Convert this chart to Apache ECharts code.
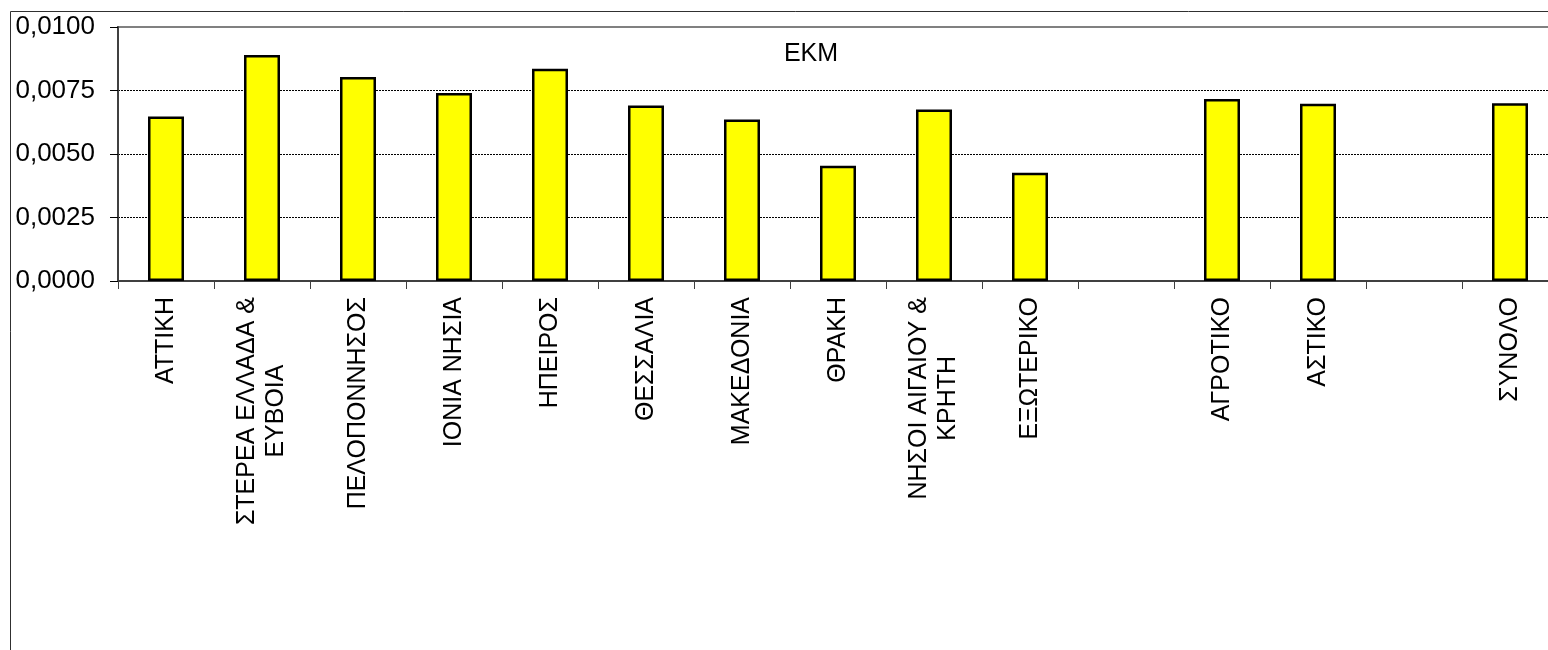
<!DOCTYPE html>
<html>
<head>
<meta charset="utf-8">
<script src="https://cdn.jsdelivr.net/npm/echarts@6/dist/echarts.min.js"></script>
<style>
html,body{margin:0;padding:0;background:#fff;overflow:hidden;width:1548px;height:650px;}
#c{width:1580px;height:650px;}
</style>
</head>
<body>
<div id="c"></div>
<script>
const categories = [
  'ΑΤΤΙΚΗ',
  'ΣΤΕΡΕΑ ΕΛΛΑΔΑ &\nΕΥΒΟΙΑ',
  'ΠΕΛΟΠΟΝΝΗΣΟΣ',
  'ΙΟΝΙΑ ΝΗΣΙΑ',
  'ΗΠΕΙΡΟΣ',
  'ΘΕΣΣΑΛΙΑ',
  'ΜΑΚΕΔΟΝΙΑ',
  'ΘΡΑΚΗ',
  'ΝΗΣΟΙ ΑΙΓΑΙΟΥ &\nΚΡΗΤΗ',
  'ΕΞΩΤΕΡΙΚΟ',
  '',
  'ΑΓΡΟΤΙΚΟ',
  'ΑΣΤΙΚΟ',
  '',
  'ΣΥΝΟΛΟ'
];
const values = [
  0.00648, 0.00890, 0.00803, 0.00740, 0.00836,
  0.00691, 0.00636, 0.00454, 0.00675, 0.00426,
  null, 0.00717, 0.00698, null, 0.00700
];
const seriesName = 'ΕΚΜ';
const yTicks = { min: 0, max: 0.01, interval: 0.0025 };

const FONT = "'Liberation Sans', Arial, sans-serif";
const chart = echarts.init(document.getElementById('c'), null, { renderer: 'canvas' });

chart.setOption({
  animation: false,
  backgroundColor: '#ffffff',
  graphic: [
    {
      type: 'rect',
      z: -10,
      shape: { x: 10.5, y: 11.5, width: 1700, height: 800 },
      style: { fill: 'none', stroke: '#303030', lineWidth: 1 }
    },
    {
      type: 'text',
      z: 10,
      style: {
        text: seriesName,
        x: 811, y: 54,
        textAlign: 'center',
        textVerticalAlign: 'middle',
        font: "25px 'Liberation Sans', Arial, sans-serif",
        fill: '#000'
      }
    }
  ],
  grid: {
    left: 118, top: 27, width: 1440, height: 254,
    show: true, borderColor: '#808080', borderWidth: 2, backgroundColor: 'transparent',
    containLabel: false
  },
  xAxis: {
    type: 'category',
    data: categories,
    boundaryGap: true,
    axisLine: { show: true, lineStyle: { color: '#404040', width: 2 } },
    axisTick: { show: true, length: 8, inside: false, alignWithLabel: false, interval: 0, lineStyle: { color: '#404040', width: 1 } },
    axisLabel: {
      interval: 0,
      rotate: 90,
      margin: 16,
      color: '#000',
      fontFamily: FONT,
      fontSize: 25,
      lineHeight: 29,
      formatter: function (v) {
        if (v.indexOf('\n') < 0) return v;
        return v.split('\n').map(function (s) { return '{c|' + s + '}'; }).join('\n');
      },
      rich: {
        c: { align: 'center', fontFamily: FONT, fontSize: 25, lineHeight: 29, color: '#000' }
      }
    },
    splitLine: { show: false }
  },
  yAxis: {
    type: 'value',
    min: yTicks.min,
    max: yTicks.max,
    interval: yTicks.interval,
    axisLine: { show: true, lineStyle: { color: '#404040', width: 2 } },
    axisTick: { show: true, length: 8, inside: false, lineStyle: { color: '#000', width: 1 } },
    axisLabel: {
      margin: 23,
      color: '#000',
      fontFamily: FONT,
      fontSize: 26,
      formatter: function (v) { return v.toFixed(4).replace('.', ','); }
    },
    splitLine: {
      show: true,
      showMinLine: false,
      showMaxLine: false,
      lineStyle: { color: '#000', width: 1, type: [2, 1] }
    }
  },
  series: [{
    name: seriesName,
    type: 'bar',
    data: values,
    barWidth: 36,
    itemStyle: { color: '#FFFF00', borderColor: '#000', borderWidth: 2.5 }
  }]
});
</script>
</body>
</html>
